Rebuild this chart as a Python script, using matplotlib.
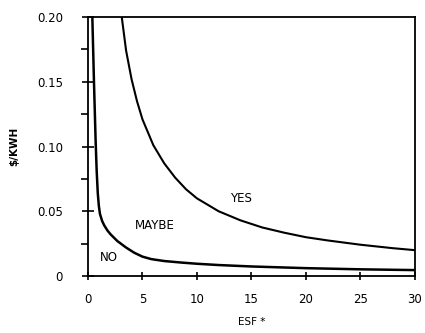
import matplotlib.pyplot as plt
import numpy as np
from matplotlib.ticker import MultipleLocator

# boundary YES / MAYBE
yes_x = [3.1, 3.5, 4, 4.5, 5, 6, 7, 8, 9, 10, 12, 14, 16, 18, 20, 22, 25, 28, 30]
yes_y = [0.200, 0.174, 0.152, 0.135, 0.121, 0.101, 0.087, 0.076, 0.067, 0.060, 0.050,
         0.043, 0.0375, 0.0335, 0.030, 0.0275, 0.0242, 0.0215, 0.020]

# boundary MAYBE / NO
no_x = [0.4, 0.55, 0.7, 0.8, 0.9, 1.0, 1.1, 1.3, 1.5, 1.8, 2.1, 2.7, 3.5, 4.25, 5.0,
        5.8, 7.0, 8.6, 10, 12, 15, 20, 25, 30]
no_y = [0.200, 0.150, 0.105, 0.081, 0.064, 0.054, 0.048, 0.0425, 0.039, 0.035, 0.032,
        0.027, 0.022, 0.0180, 0.0150, 0.0131, 0.0116, 0.0104, 0.0095, 0.0085, 0.0074,
        0.0061, 0.0052, 0.0046]

region_labels = ["YES", "MAYBE", "NO"]
region_x = [14.0, 6.1, 1.9]
region_y = [0.060, 0.039, 0.014]

plt.rcParams['font.family'] = ['DejaVu Sans']
fig = plt.figure(figsize=(4.25, 3.33), dpi=100)
ax = fig.add_axes([0.207, 0.171, 0.769, 0.778])

ax.plot(yes_x, yes_y, color="black", lw=1.5)
ax.plot(no_x, no_y, color="black", lw=1.8)

for lab, x, y in zip(region_labels, region_x, region_y):
    ax.text(x, y, lab, fontsize=8.5, ha="center", va="center")

ax.set_xlim(0, 30)
ax.set_ylim(0, 0.20)
ax.xaxis.set_major_locator(MultipleLocator(5))
ax.yaxis.set_minor_locator(MultipleLocator(0.025))
ax.set_yticks([0, 0.05, 0.10, 0.15, 0.20])
ax.set_yticklabels(["0", "0.05", "0.10", "0.15", "0.20"])
ax.tick_params(axis="both", which="major", direction="inout", length=8, width=1.2,
               labelsize=8.5)
ax.tick_params(axis="x", which="major", length=6, pad=9)
ax.tick_params(axis="y", which="major", pad=14)
ax.tick_params(axis="y", which="minor", direction="out", length=5, width=1.2)
for s in ax.spines.values():
    s.set_linewidth(1.3)

ax.set_xlabel("ESF *", fontsize=7.5, labelpad=8)
ax.set_ylabel("$/KWH", fontsize=7.5, fontweight="bold", labelpad=13)

fig.savefig("out.png", dpi=100)
